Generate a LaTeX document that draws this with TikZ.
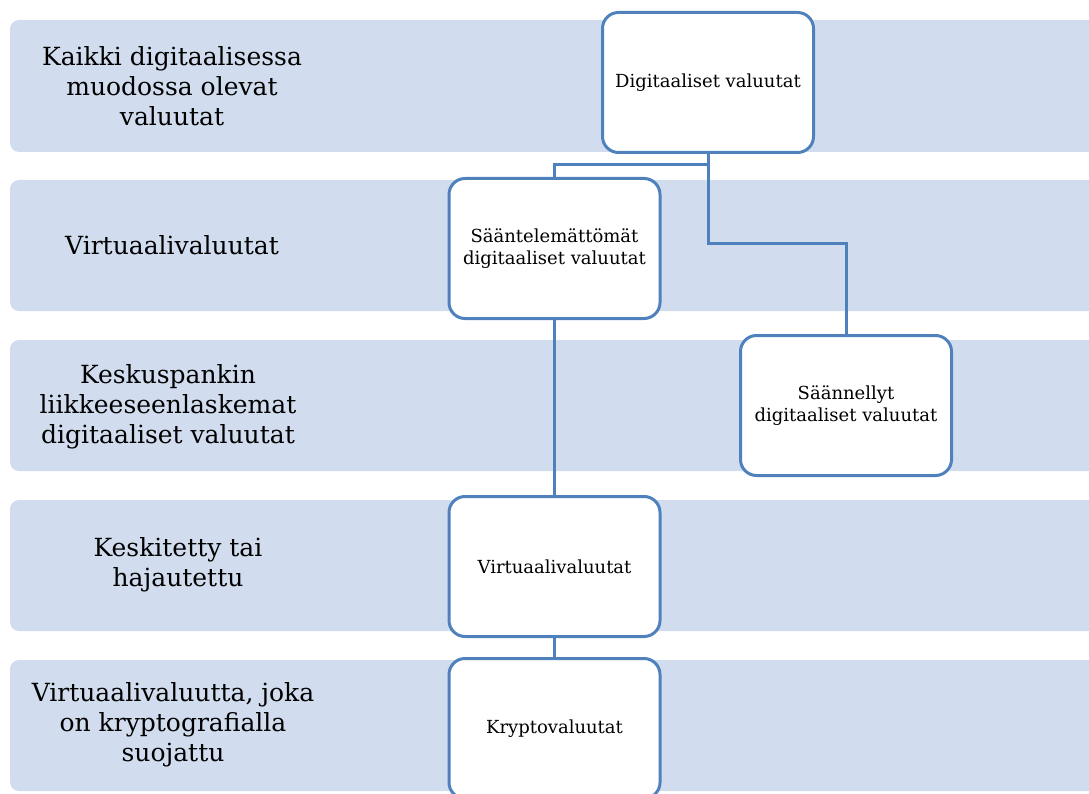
\documentclass[tikz,border=0pt]{standalone}
\usepackage{fontspec}
\setmainfont{DejaVu Serif}
\definecolor{bandfill}{RGB}{209,221,238}
\definecolor{boxline}{RGB}{79,129,189}
\begin{document}
\begin{tikzpicture}[x=1pt,y=-1pt,
  band/.style={fill=bandfill,draw=none,rounded corners=9pt},
  bandtext/.style={align=center,font=\fontsize{25}{30}\selectfont,inner sep=0pt},
  catbox/.style={draw=boxline,line width=3pt,fill=white,rounded corners=16pt,
    minimum width=211pt,minimum height=140pt,align=center,inner sep=0pt,
    font=\fontsize{18}{22}\selectfont},
  conn/.style={draw=boxline,line width=3pt}]
\useasboundingbox (0,0) rectangle (1089,794);
% bands
\path[band] (10,20) rectangle (1110,152);
\path[band] (10,180) rectangle (1110,311);
\path[band] (10,340) rectangle (1110,471);
\path[band] (10,500) rectangle (1110,631);
\path[band] (10,660) rectangle (1110,791);
% band texts
\node[bandtext] (t1) at (172,86) {Kaikki digitaalisessa\\muodossa olevat\\valuutat};
\node[bandtext] (t2) at (172,245) {Virtuaalivaluutat};
\node[bandtext] (t3) at (168,407) {Keskuspankin\\liikkeeseenlaskemat\\digitaaliset valuutat};
\node[bandtext] (t4) at (178,565) {Keskitetty tai\\hajautettu};
\node[bandtext] (t5) at (173,725) {Virtuaalivaluutta, joka\\on kryptografialla\\suojattu};
\coordinate (j1) at (708,165);
\coordinate (j2) at (708,244);
% boxes
\node[catbox] (dig) at (708,82.5) {Digitaaliset valuutat};
\node[catbox] (unreg) at (554.5,248.5) {Sääntelemättömät\\digitaaliset valuutat};
\node[catbox] (reg) at (846,405.5) {Säännellyt\\digitaaliset valuutat};
\node[catbox] (virt) at (554.5,566.5) {Virtuaalivaluutat};
\node[catbox] (krypto) at (554.5,728.5) {Kryptovaluutat};
% connectors
\draw[conn] (dig.south) -- (j1) -| (unreg.north);
\draw[conn] (j1) -- (j2) -| (reg.north);
\draw[conn] (unreg.south) -- (virt.north);
\draw[conn] (virt.south) -- (krypto.north);
\end{tikzpicture}
\end{document}
